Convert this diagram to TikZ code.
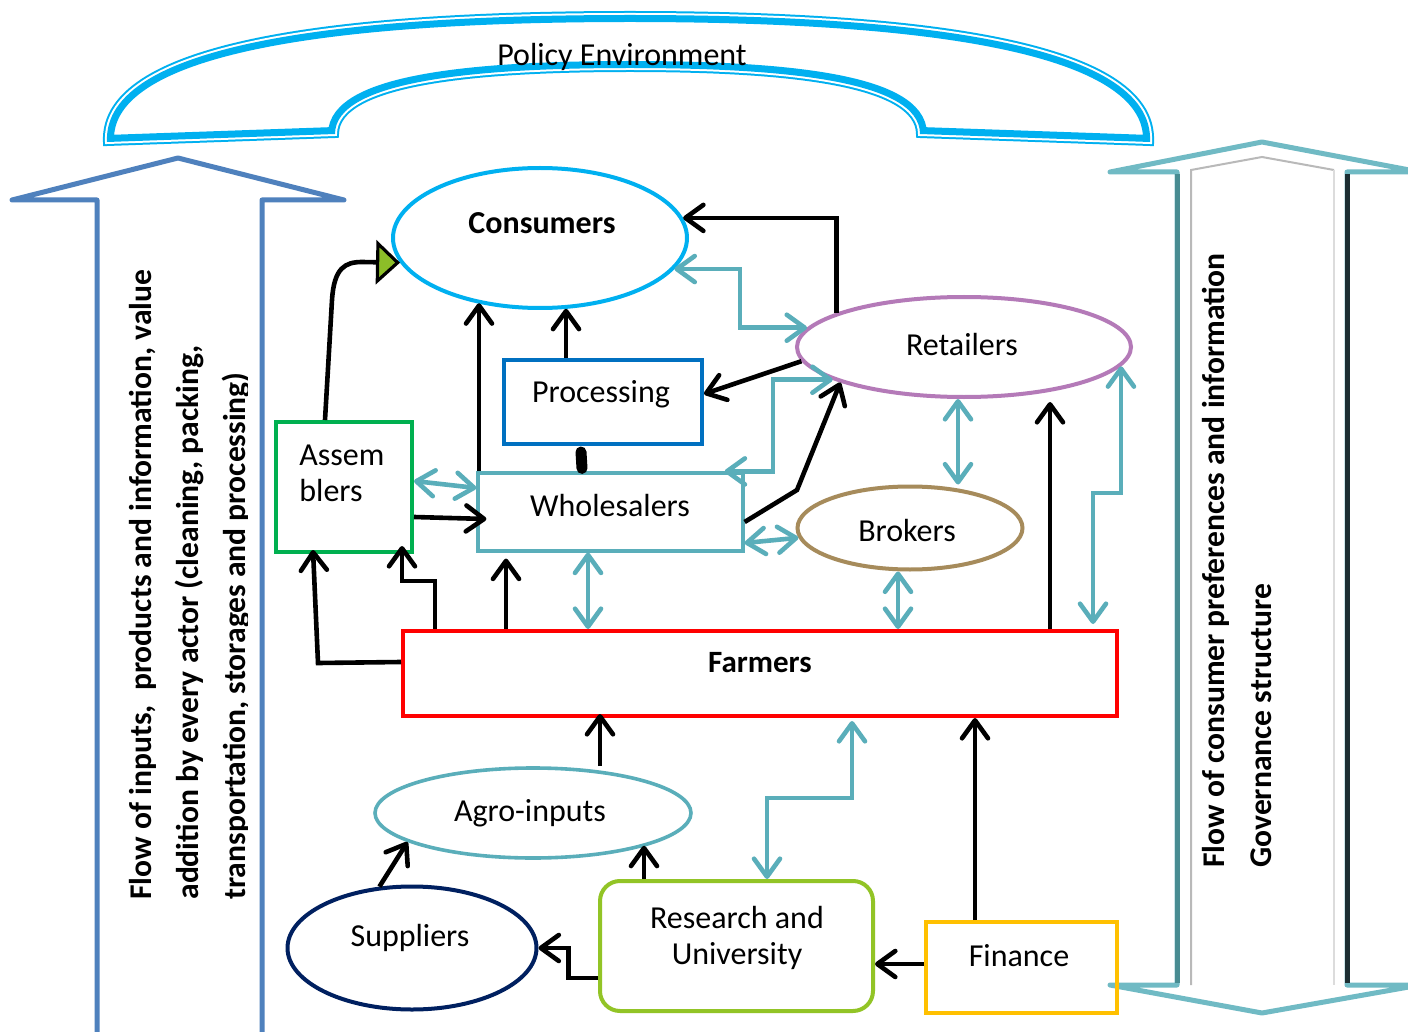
\documentclass[tikz,border=0pt]{standalone}
\usepackage{fontspec}
\setmainfont{Carlito}
\usetikzlibrary{arrows.meta,calc,shapes.geometric}
\definecolor{archblue}{RGB}{0,176,240}
\definecolor{leftblue}{RGB}{79,129,189}
\definecolor{rtl}{RGB}{112,186,196}
\definecolor{rtd}{RGB}{72,140,146}
\definecolor{rtk}{RGB}{28,46,50}
\definecolor{rtg}{RGB}{185,185,185}
\definecolor{consc}{RGB}{0,176,240}
\definecolor{procc}{RGB}{0,112,192}
\definecolor{tealc}{RGB}{90,174,186}
\definecolor{retc}{RGB}{180,122,184}
\definecolor{brokc}{RGB}{166,139,91}
\definecolor{asmc}{RGB}{0,176,80}
\definecolor{suppc}{RGB}{0,32,96}
\definecolor{resc}{RGB}{146,196,38}
\definecolor{finc}{RGB}{255,192,0}
\definecolor{tipgreen}{RGB}{140,190,40}
\tikzset{
  nf/.style={font=\fontsize{16pt}{18pt}\selectfont},
  nfb/.style={font=\fontsize{16pt}{18pt}\selectfont\bfseries},
  ell/.style={ellipse, draw, line width=2pt, inner sep=0pt},
  box/.style={rectangle, draw, line width=2pt, inner sep=0pt},
  txt/.style={inner sep=0pt, nf},
  blk/.style={draw=black, line width=2.3pt, -{Straight Barb[length=9pt,width=13pt,round]}},
  tl/.style={draw=tealc, line width=2.3pt, {Straight Barb[length=9pt,width=13pt,round]}-{Straight Barb[length=9pt,width=13pt,round]}},
  sidetext/.style={rotate=90, anchor=north west, inner sep=0pt, align=left,
    font=\fontsize{15.8pt}{23.5pt}\selectfont\bfseries},
}
\begin{document}
\begin{tikzpicture}[x=0.5pt,y=-0.5pt]
\useasboundingbox (0,0) rectangle (1408,1032);
\fill[white] (0,0) rectangle (1408,1032);

% ---- Policy environment arch
\draw[archblue, line width=4pt] (107,142) .. controls (102,40) and (360,15) .. (630,15) .. controls (900,15) and (1155,40) .. (1150,142) -- (920,134) .. controls (920,80) and (780,68) .. (630,68) .. controls (480,68) and (335,80) .. (335,134) -- cycle;
\draw[white, line width=2pt] (107,142) .. controls (102,40) and (360,15) .. (630,15) .. controls (900,15) and (1155,40) .. (1150,142) -- (920,134) .. controls (920,80) and (780,68) .. (630,68) .. controls (480,68) and (335,80) .. (335,134) -- cycle;
\begin{scope}
\clip (107,142) .. controls (102,40) and (360,15) .. (630,15) .. controls (900,15) and (1155,40) .. (1150,142) -- (920,134) .. controls (920,80) and (780,68) .. (630,68) .. controls (480,68) and (335,80) .. (335,134) -- cycle;
\draw[archblue, line width=7pt] (107,142) .. controls (102,40) and (360,15) .. (630,15) .. controls (900,15) and (1155,40) .. (1150,142) -- (920,134) .. controls (920,80) and (780,68) .. (630,68) .. controls (480,68) and (335,80) .. (335,134) -- cycle;
\end{scope}
\node[txt] (policy) at (622,57) {Policy Environment};

% ---- left big arrow
\draw[leftblue, line width=2.5pt, line join=round, line cap=round]
  (97,1045) -- (97,200) -- (12,200) -- (178,158) -- (344,200) -- (262,200) -- (262,1045);
\begin{scope}
\clip (100,150) rectangle (247,1032);
\node[sidetext] (lefttext) at (129,900) {Flow of inputs, \ products and information, value\\addition by every actor (cleaning, packing,\\transportation, storages and processing)};
\end{scope}

% ---- right big double arrow
\draw[rtl, line width=2.5pt, line join=round]
  (1177,172) -- (1110,172) -- (1262,142) -- (1420,172) -- (1347,172) -- (1347,985) -- (1420,985) -- (1262,1013) -- (1110,985) -- (1177,985) -- cycle;
\draw[rtd, line width=2.5pt] (1177,174) -- (1177,983);
\draw[rtk, line width=2.5pt] (1347,174) -- (1347,983);
\draw[rtg, line width=1pt] (1191,985) -- (1191,170) -- (1262,157) -- (1334,170);
\draw[rtg!50, line width=1pt] (1334,170) -- (1334,985);
\node[sidetext] (righttext) at (1202,868) {Flow of consumer preferences and information\\Governance structure};

% ---- nodes
\node[ell, draw=consc, minimum width=147pt, minimum height=70pt] (cons) at (540,238) {};
\node[txt, nfb] (consT) at (542,223) {Consumers};
\node[ell, draw=retc, minimum width=167pt, minimum height=50pt] (ret) at (964,347) {};
\node[txt] (retT) at (962,345) {Retailers};
\node[ell, draw=brokc, minimum width=112.5pt, minimum height=41.5pt] (brok) at (910,528) {};
\node[txt] (brokT) at (907,531) {Brokers};
\node[ell, draw=tealc, line width=1.8pt, minimum width=158pt, minimum height=45pt] (agro) at (533,813) {};
\node[txt] (agroT) at (530,813) {Agro-inputs};
\node[ell, draw=suppc, minimum width=124.5pt, minimum height=61.5pt] (supp) at (412,948) {};
\node[txt] (suppT) at (410,938) {Suppliers};
\node[box, draw=procc, minimum width=99pt, minimum height=42pt] (proc) at (603,402) {};
\node[txt] (procT) at (601,394) {Processing};
\node[box, draw=tealc, line width=1.6pt, minimum width=132.5pt, minimum height=39pt] (whole) at (610.5,512) {};
\node[txt] (wholeT) at (610,506) {Wholesalers};
\node[box, draw=asmc, minimum width=68pt, minimum height=65pt] (asm) at (344,487) {};
\node[txt, align=left, anchor=west] (asmT) at (299,473) {Assem\\blers};
\node[box, draw=red, minimum width=357pt, minimum height=42.5pt] (farm) at (760,673.5) {};
\node[txt, font=\fontsize{15.5pt}{18pt}\selectfont\bfseries] (farmT) at (760,663) {Farmers};
\node[box, draw=resc, rounded corners=10pt, minimum width=136.5pt, minimum height=65pt] (res) at (736.5,946) {};
\node[txt, align=center] (resT) at (737,938) {Research and\\University};
\node[box, draw=finc, minimum width=95.5pt, minimum height=45.5pt] (fin) at (1021.5,967.5) {};
\node[txt] (finT) at (1019,956) {Finance};

% ---- teal double arrows
\draw[tl] (cons.347) -| ($(ret.173)+(-67,0)$) -- (ret.173);
\draw[tl] (ret.194) -| (773,0 |- whole.north) -- ($(whole.north east)+(-20,0)$);
\draw[tl] (asm.east |- 0,481) -- (whole.west |- 0,488);
\draw[tl] (whole.east |- 0,543) -- (brok.185);
\draw[tl] (958,0 |- ret.south) -- (958,0 |- brok.north);
\draw[tl] (588,0 |- whole.south) -- (588,0 |- farm.north);
\draw[tl] (898,0 |- brok.south) -- (898,0 |- farm.north);
\draw[tl] (ret.353) |- (1093,493) -- ($(1093,0 |- farm.north)+(0,-5)$);
\draw[tl] (767,0 |- res.north) |- (852,798) -- ($(852,0 |- farm.south)+(0,3)$);

% ---- black arrows
\draw[black, line width=2.3pt, -{Triangle[length=12pt,width=22pt,fill=tipgreen,line width=1.6pt]}]
  (325,0 |- asm.north) -- (332,300) .. controls (334,268) and (345,262) .. (362,262) -- (cons.190);
\draw[blk] (479,0 |- whole.north) -- (479,0 |- cons.226);
\draw[blk] (566,0 |- proc.north) -- (566,0 |- cons.291);
\draw[black, line width=5.5pt, line cap=round] (581,0 |- proc.south) ++(0,6) coordinate (blobA) -- ($(582,0 |- whole.north)+(0,-3)$) coordinate (blobB);
\draw[blk] (ret.165) |- (cons.8);
\draw[blk] (ret.185) -- ([yshift=4pt]proc.east);
\draw[blk] ([yshift=-5pt]whole.east) -- (797,490) -- (ret.196);
\draw[blk] (asm.east |- 0,517) -- ($(whole.west |- 0,519)+(10,0)$);
\draw[blk] (435,0 |- farm.north) -- (435,581) -- (402,581) -- ($(402,0 |- asm.south)+(0,-8)$);
\draw[blk] (farm.west |- 0,662) -- (318,663) -- ($(313,0 |- asm.south)+(0,-4)$);
\draw[blk] (506,0 |- farm.north) -- ($(506,0 |- whole.south)+(0,6)$);
\draw[blk] (1050,0 |- farm.north) -- ($(1050,0 |- ret.south)+(0,3)$);
\draw[blk] (600,0 |- agro.north) -- ($(600,0 |- farm.south)+(0,-4)$);
\draw[blk] (supp.118) -- (agro.193);
\draw[blk] (644,0 |- res.north) -- (644,0 |- agro.344);
\draw[blk] (res.west |- 0,978) -| ($(supp.east)+(30,0)$) -- (supp.east);
\draw[blk] (fin.west |- 0,964) -- (res.east |- 0,964);
\draw[blk] (975,0 |- fin.north) -- (975,0 |- farm.south);
\end{tikzpicture}
\end{document}
